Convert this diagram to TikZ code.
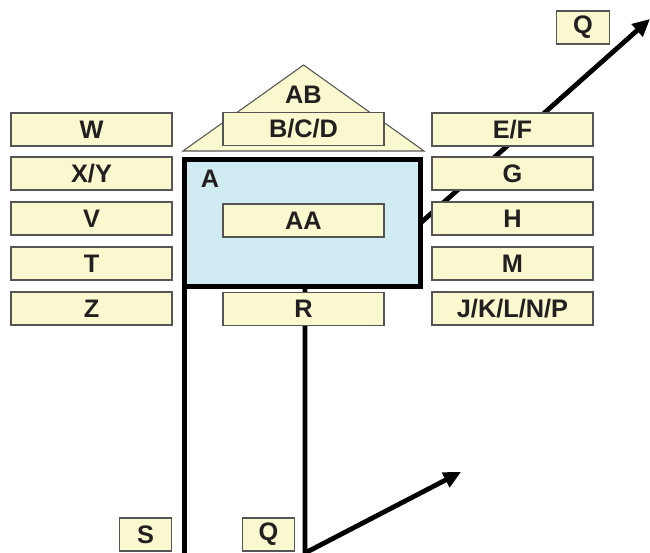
\documentclass[tikz,border=0pt]{standalone}
\usepackage{fontspec}
\setmainfont{Liberation Sans}
\usetikzlibrary{arrows.meta}
\definecolor{boxfill}{RGB}{250,248,206}
\definecolor{boxedge}{RGB}{85,85,85}
\definecolor{roomfill}{RGB}{208,235,242}
\definecolor{ink}{RGB}{35,31,32}
\tikzset{
  lbl/.style={font=\fontsize{19}{21}\selectfont\bfseries, text=ink, inner sep=0pt},
  tag/.style={lbl, draw=boxedge, fill=boxfill, line width=0.8pt,
              minimum width=120.75pt, minimum height=24.75pt},
  smalltag/.style={tag, minimum width=39.5pt},
  heavy/.style={line width=3.6pt, draw=black},
  heavyarrow/.style={heavy, -{Triangle[length=13pt,width=12pt]}}
}
\begin{document}
\begin{tikzpicture}[x=0.75pt,y=-0.75pt]
\useasboundingbox (0,0) rectangle (650,553);

% long arrow leaving the room to the upper right
\coordinate (qtip) at (650,19);
\coordinate (roomE) at (420.5,223);
\draw[heavyarrow] (roomE) -- (qtip);

% roof
\path[draw=boxedge, fill=boxfill, line width=0.8pt] (183,151) coordinate (roofL)
  -- (303.5,65) coordinate (roofT) -- (424,151) coordinate (roofR) -- cycle;
\node[lbl] (AB) at (303.5,95) {AB};
\node[tag] (BCD) at (303.5,129) {B/C/D};

% lines down from the room
\coordinate (ltop) at (184.5,286.5);
\coordinate (lbot) at (184.5,553);
\draw[heavy] (ltop) -- (lbot);
\coordinate (rtop) at (305,286.5);
\coordinate (rbot) at (305,553);
\coordinate (lowtip) at (461,472);
\draw[heavyarrow] (rtop) -- (rbot) -- (lowtip);

% room
\node[heavy, fill=roomfill, minimum width=177pt, minimum height=95.25pt,
      inner sep=0pt, outer sep=0pt] (A) at (302.5,223) {};
\node[lbl] (Alabel) at (210,178.5) {A};
\node[tag] (AA) at (303.5,220.5) {AA};
\node[tag] (R) at (303.5,309) {R};

% left column
\node[tag] (W)  at (91.5,129.5) {W};
\node[tag] (XY) at (91.5,173.5) {X/Y};
\node[tag] (V)  at (91.5,218.5) {V};
\node[tag] (T)  at (91.5,263.5) {T};
\node[tag] (Z)  at (91.5,308.5) {Z};

% right column
\node[tag] (EF) at (512.5,129.5) {E/F};
\node[tag] (G)  at (512.5,173.5) {G};
\node[tag] (H)  at (512.5,218.5) {H};
\node[tag] (M)  at (512.5,263.5) {M};
\node[tag] (JK) at (512.5,308.5) {J/K/L/N/P};

% small tags
\node[smalltag] (S)  at (145.5,534.5) {S};
\node[smalltag] (Qb) at (268.5,534.5) {Q};
\node[smalltag] (Qt) at (583,27.5) {Q};
\end{tikzpicture}
\end{document}
